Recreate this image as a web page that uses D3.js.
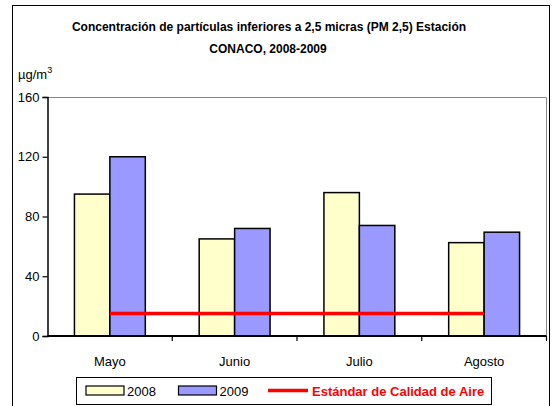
<!DOCTYPE html>
<html>
<head>
<meta charset="utf-8">
<script src="https://cdn.jsdelivr.net/npm/d3@7"></script>
<style>
  body { margin: 0; background: #fff; }
  svg text { font-family: "Liberation Sans", Arial, sans-serif; }
</style>
</head>
<body>
<div id="chart"></div>
<script>
  // data
  var months = ["Mayo", "Junio", "Julio", "Agosto"];
  var years = ["2008", "2009"];
  var values2008 = [95, 65, 96, 62.5];
  var values2009 = [120, 72, 74, 69.5];
  var standard = [15, 15, 15, 15];
  var yTicks = [0, 40, 80, 120, 160];

  var colors = { "2008": "#ffffcc", "2009": "#9999ff" };

  var W = 554, H = 406;

  var svg = d3.select("#chart")
    .append("svg")
    .attr("width", W)
    .attr("height", H);

  // outer frame
  svg.append("rect")
    .attr("x", 12.5).attr("y", 5.5)
    .attr("width", 537).attr("height", 410)
    .attr("fill", "#fff").attr("stroke", "#000").attr("stroke-width", 1);

  // title
  var title = svg.append("text")
    .attr("text-anchor", "middle")
    .attr("font-size", 12)
    .attr("font-weight", "bold");
  title.append("tspan").attr("x", 269).attr("y", 31)
    .text("Concentración de partículas inferiores a 2,5 micras (PM 2,5) Estación");
  title.append("tspan").attr("x", 268).attr("y", 53)
    .text("CONACO, 2008-2009");

  // unit label
  var unit = svg.append("text")
    .attr("x", 18).attr("y", 79)
    .attr("font-size", 13);
  unit.append("tspan").text("µg/m");
  unit.append("tspan").attr("dy", -6).attr("font-size", 9).text("3");

  var x0 = d3.scaleBand()
    .domain(months)
    .range([47.5, 546.5]);

  var x1 = d3.scaleBand()
    .domain(years)
    .range([0, x0.bandwidth()])
    .paddingOuter(0.76);

  var y = d3.scaleLinear()
    .domain([0, 160])
    .range([336, 97]);

  // plot area border (gray top/right)
  svg.append("path")
    .attr("d", "M" + x0.range()[0] + "," + (y(160) + 0.5) + "H" + x0.range()[1] + "V" + y(0))
    .attr("fill", "none")
    .attr("stroke", "#888")
    .attr("stroke-width", 1);

  var rows = months.map(function(m, i){
    return { month: m, "2008": values2008[i], "2009": values2009[i] };
  });

  var groups = svg.selectAll("g.grp")
    .data(rows)
    .enter()
    .append("g")
    .attr("class", "grp")
    .attr("transform", function(d){ return "translate(" + x0(d.month) + ",0)"; });

  groups.selectAll("rect")
    .data(function(d){ return years.map(function(yr){ return { year: yr, value: d[yr] }; }); })
    .enter()
    .append("rect")
    .attr("x", function(d){ return x1(d.year); })
    .attr("y", function(d){ return y(d.value); })
    .attr("width", x1.bandwidth())
    .attr("height", function(d){ return y(0) - y(d.value); })
    .attr("fill", function(d){ return colors[d.year]; })
    .attr("stroke", "#000")
    .attr("stroke-width", 1.5);

  // standard line
  var line = d3.line()
    .x(function(d, i){ return x0(months[i]) + x0.bandwidth() / 2; })
    .y(function(d){ return y(d); });

  svg.append("path")
    .datum(standard)
    .attr("d", line)
    .attr("fill", "none")
    .attr("stroke", "#ff0000")
    .attr("stroke-width", 3.5);

  // axes
  var yAxis = d3.axisLeft(y)
    .tickValues(yTicks)
    .tickSize(5)
    .tickPadding(3);

  var gy = svg.append("g")
    .attr("transform", "translate(47.5,0)")
    .call(yAxis);
  gy.select(".domain").attr("stroke", "#000").attr("stroke-width", 1.5);
  gy.selectAll(".tick line").attr("stroke", "#000").attr("stroke-width", 1.2);
  gy.selectAll("text").attr("font-size", 13).attr("fill", "#000")
    .attr("font-family", "Liberation Sans, Arial, sans-serif");

  var xTickScale = d3.scaleLinear().domain([0, 4]).range(x0.range());
  var gx = svg.append("g")
    .attr("transform", "translate(0," + y(0) + ")");
  gx.append("line")
    .attr("x1", x0.range()[0]).attr("x2", x0.range()[1])
    .attr("stroke", "#000").attr("stroke-width", 2);
  gx.selectAll("line.tk")
    .data(d3.range(1, 5))
    .enter()
    .append("line")
    .attr("class", "tk")
    .attr("x1", function(d){ return xTickScale(d); })
    .attr("x2", function(d){ return xTickScale(d); })
    .attr("y1", 0).attr("y2", 5)
    .attr("stroke", "#000").attr("stroke-width", 1.2);
  gx.selectAll("text")
    .data(months)
    .enter()
    .append("text")
    .attr("x", function(d){ return x0(d) + x0.bandwidth() / 2; })
    .attr("y", 30)
    .attr("text-anchor", "middle")
    .attr("font-size", 13)
    .text(function(d){ return d; });

  // legend
  var lg = svg.append("g");
  lg.append("rect")
    .attr("x", 76.5).attr("y", 377.5)
    .attr("width", 415).attr("height", 27)
    .attr("fill", "#fff").attr("stroke", "#000").attr("stroke-width", 1);

  var legendX = { "2008": 86, "2009": 178.5 };
  years.forEach(function(yr){
    lg.append("rect")
      .attr("x", legendX[yr]).attr("y", 386)
      .attr("width", 38).attr("height", 9)
      .attr("fill", colors[yr]).attr("stroke", "#000").attr("stroke-width", 1.2);
    lg.append("text")
      .attr("x", legendX[yr] + 41).attr("y", 395.5)
      .attr("font-size", 13)
      .text(yr);
  });
  lg.append("line")
    .attr("x1", 268).attr("x2", 308)
    .attr("y1", 390.5).attr("y2", 390.5)
    .attr("stroke", "#ff0000").attr("stroke-width", 3.5);
  lg.append("text")
    .attr("x", 312).attr("y", 395.5)
    .attr("font-size", 13)
    .attr("font-weight", "bold")
    .attr("fill", "#ff0000")
    .text("Estándar de Calidad de Aire");
</script>
</body>
</html>
